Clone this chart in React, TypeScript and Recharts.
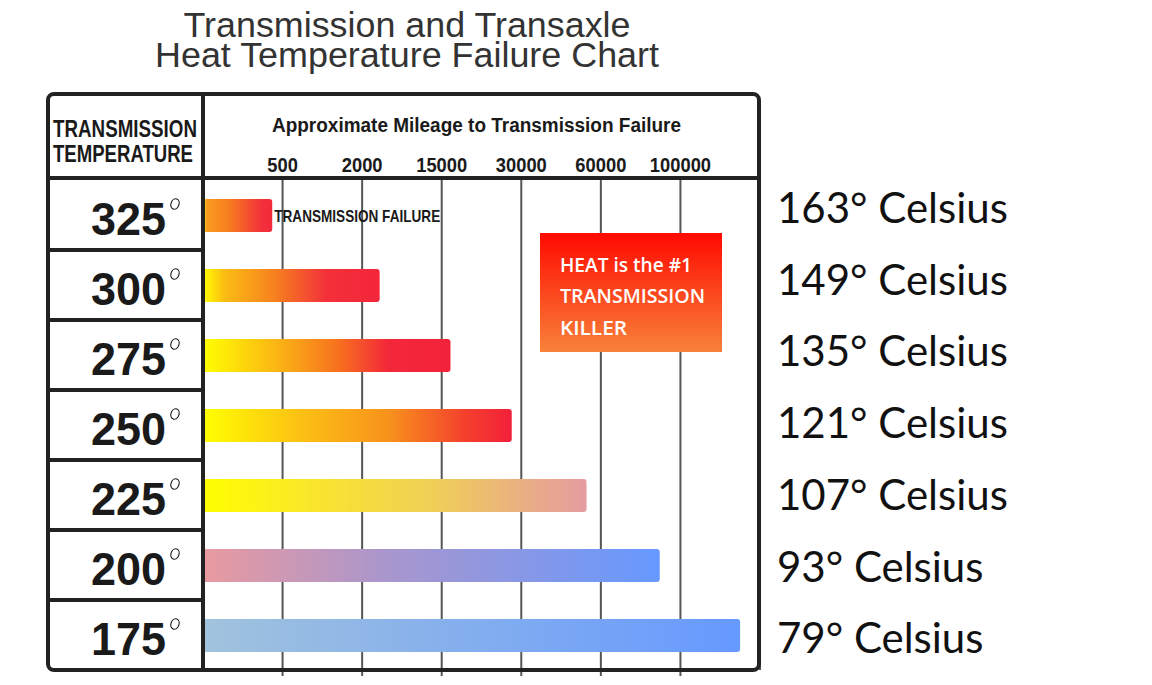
import { BarChart, Bar, XAxis, YAxis, CartesianGrid, Cell, LabelList } from "recharts";

// rows, hottest first
const tempsF = ["325", "300", "275", "250", "225", "200", "175"];
const tempsC = ["163", "149", "135", "121", "107", "93", "79"];
// mileage columns of the grid (evenly spaced, not to scale)
const mileageLabels = ["500", "2000", "15000", "30000", "60000", "100000"];
// bar length, in grid columns (1 = "500" line, 6 = "100000" line)
const failureColumns = [0.87, 2.22, 3.11, 3.88, 4.82, 5.74, 6.75];

const barGradients: [number, string][][] = [
  [[0, "#fde21a"], [0.06, "#f99a1e"], [0.35, "#f7801f"], [0.85, "#f3303a"], [1, "#f22a3a"]],
  [[0, "#ffff00"], [0.12, "#fbbd14"], [0.4, "#f7821e"], [0.7, "#f3303a"], [1, "#f3263a"]],
  [[0, "#ffff00"], [0.3, "#fbb515"], [0.55, "#f7701f"], [0.75, "#f3273a"], [1, "#f2223a"]],
  [[0, "#ffff00"], [0.3, "#fcc313"], [0.6, "#f8921c"], [0.85, "#f4402d"], [1, "#f2203a"]],
  [[0, "#ffff00"], [0.3, "#f9e52e"], [0.6, "#f0cf58"], [0.85, "#e9ad86"], [1, "#e49ca0"]],
  [[0, "#e99aa0"], [0.4, "#a996cd"], [1, "#6699ff"]],
  [[0, "#a1c3dd"], [1, "#6699ff"]],
];

const data = tempsF.map((t, i) => ({ temp: t, cols: failureColumns[i] }));

const narrow = "'Liberation Sans Narrow', 'Liberation Sans', Arial, sans-serif";
const ink = "#1a1a1a";

function TempTick({ x, y, payload }: any) {
  // x is the tick anchor (plot left - 8)
  const right = x - 29;
  return (
    <g>
      <text
        x={right}
        y={y + 20}
        textAnchor="end"
        fontFamily="'Liberation Sans', Arial, sans-serif"
        fontWeight="bold"
        fontSize={46}
        fill={ink}
        textLength={75}
        lengthAdjust="spacingAndGlyphs"
      >
        {payload.value}
      </text>
      <ellipse
        cx={right + 9}
        cy={y - 11}
        rx={4}
        ry={5.3}
        fill="none"
        stroke={ink}
        strokeWidth={1.2}
        transform={`rotate(20 ${right + 9} ${y - 11})`}
      />
    </g>
  );
}

function MileTick({ x, y, payload }: any) {
  const label = mileageLabels[payload.value - 1] ?? "";
  return (
    <text
      x={x}
      y={y}
      textAnchor="middle"
      fontFamily={narrow}
      fontWeight="bold"
      fontSize={21}
      fill={ink}
      textLength={label.length * 10.2}
      lengthAdjust="spacingAndGlyphs"
    >
      {label}
    </text>
  );
}

function FailureLabel(props: any) {
  const { x, y, width, height, index } = props;
  if (index !== 0) return null;
  return (
    <text
      x={x + width + 2}
      y={y + height / 2 + 6}
      fontFamily={narrow}
      fontWeight="bold"
      fontSize={17}
      fill={ink}
      textLength={166}
      lengthAdjust="spacingAndGlyphs"
    >
      TRANSMISSION FAILURE
    </text>
  );
}

export default function App() {
  const rowLines = tempsF.slice(1).map((_, i) => 180 + 70 * (i + 1));
  return (
    <div
      style={{
        position: "absolute",
        left: 0,
        top: 0,
        width: 1152,
        height: 685,
        background: "#fff",
        overflow: "hidden",
      }}
    >
      <BarChart
        width={1152}
        height={685}
        data={data}
        layout="vertical"
        margin={{ top: 120, right: 392, bottom: 15, left: 0 }}
      >
        <defs>
          {barGradients.map((stops, i) => (
            <linearGradient key={i} id={`bar-${i}`} x1="0" y1="0" x2="1" y2="0">
              {stops.map(([o, c]) => (
                <stop key={o} offset={o} stopColor={c} />
              ))}
            </linearGradient>
          ))}
        </defs>
        <CartesianGrid horizontal={false} stroke="#555" strokeWidth={2} />
        <XAxis
          type="number"
          orientation="top"
          domain={[0, 7]}
          ticks={[1, 2, 3, 4, 5, 6]}
          height={60}
          axisLine={false}
          tickLine={false}
          tick={<MileTick />}
        />
        <YAxis
          type="category"
          dataKey="temp"
          width={203}
          axisLine={false}
          tickLine={false}
          interval={0}
          tick={<TempTick />}
        />
        <Bar dataKey="cols" barSize={33} radius={[0, 3, 3, 0]} isAnimationActive={false}>
          {data.map((_, i) => (
            <Cell key={i} fill={`url(#bar-${i})`} />
          ))}
          <LabelList dataKey="cols" content={<FailureLabel />} />
        </Bar>
      </BarChart>

      <svg
        width={1152}
        height={685}
        style={{ position: "absolute", left: 0, top: 0, pointerEvents: "none" }}
      >
        <defs>
          <linearGradient id="heat-box" x1="0" y1="0" x2="0" y2="1">
            <stop offset={0} stopColor="#ff0a00" />
            <stop offset={1} stopColor="#f8823a" />
          </linearGradient>
        </defs>

        <g fontFamily="'Liberation Sans', Arial, sans-serif" fontSize={35.5} fill="#333" textAnchor="middle">
          <text x={407} y={37} textLength={447} lengthAdjust="spacingAndGlyphs">
            Transmission and Transaxle
          </text>
          <text x={407} y={67} textLength={504} lengthAdjust="spacingAndGlyphs">
            Heat Temperature Failure Chart
          </text>
        </g>

        {/* gridlines poke out under the frame */}
        {[1, 2, 3, 4, 5, 6].map((k) => (
          <line key={k} x1={203 + 79.57 * k} x2={203 + 79.57 * k} y1={668} y2={676} stroke="#555" strokeWidth={2} />
        ))}

        {/* table frame */}
        <rect x={48} y={94} width={711} height={576} rx={6} fill="none" stroke="#222" strokeWidth={4} />
        <line x1={48} x2={759} y1={178} y2={178} stroke="#222" strokeWidth={4} />
        <line x1={203} x2={203} y1={94} y2={670} stroke="#222" strokeWidth={4} />
        {rowLines.map((y) => (
          <line key={y} x1={48} x2={203} y1={y} y2={y} stroke="#222" strokeWidth={4} />
        ))}

        <g fontFamily={narrow} fontWeight="bold" fill={ink}>
          <text x={53} y={137} fontSize={24} textLength={144} lengthAdjust="spacingAndGlyphs">
            TRANSMISSION
          </text>
          <text x={53} y={162} fontSize={24} textLength={140} lengthAdjust="spacingAndGlyphs">
            TEMPERATURE
          </text>
          <text x={272} y={132} fontSize={20} textLength={409} lengthAdjust="spacingAndGlyphs">
            Approximate Mileage to Transmission Failure
          </text>
        </g>

        <rect x={540} y={233} width={182} height={119} fill="url(#heat-box)" />
        <g fontFamily="'Open Sans', sans-serif" fontWeight={600} fontSize={19} fill="#fff">
          <text x={560} y={272} textLength={132} lengthAdjust="spacingAndGlyphs">HEAT is the #1</text>
          <text x={560} y={303} textLength={145} lengthAdjust="spacingAndGlyphs">TRANSMISSION</text>
          <text x={560} y={335} textLength={67} lengthAdjust="spacingAndGlyphs">KILLER</text>
        </g>

        <g fontFamily="Lato, 'Open Sans', sans-serif" fontSize={42} fill="#111">
          {tempsC.map((c, i) => (
            <text key={c} x={777} y={223 + 71.7 * i}>
              {`${c}° Celsius`}
            </text>
          ))}
        </g>
      </svg>
    </div>
  );
}
